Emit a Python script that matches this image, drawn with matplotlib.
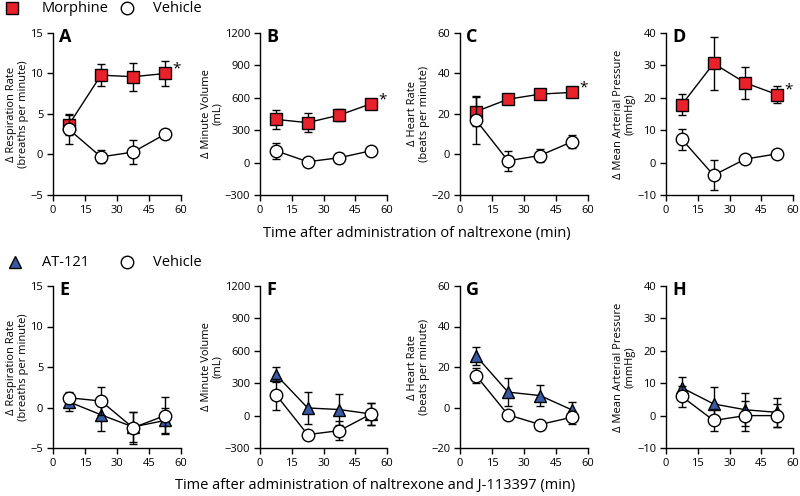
import numpy as np
import matplotlib
matplotlib.use("Agg")
import matplotlib.pyplot as plt
from matplotlib.lines import Line2D

plt.rcParams['font.family'] = ['Open Sans', 'DejaVu Sans']

# time points (min)
t = [7.5, 22.5, 37.5, 52.5]

# top row: morphine vs vehicle
A_mor = [3.7, 9.8, 9.6, 10.0]
A_mor_err = [1.3, 1.4, 1.7, 1.6]
A_veh = [3.1, -0.3, 0.3, 2.5]
A_veh_err = [1.8, 0.8, 1.5, 0.4]

B_mor = [400, 370, 440, 545]
B_mor_err = [85, 90, 55, 20]
B_veh = [110, 8, 45, 110]
B_veh_err = [75, 15, 45, 15]

C_mor = [21.2, 27.3, 29.8, 30.7]
C_mor_err = [7.0, 1.5, 1.5, 1.5]
C_veh = [17.0, -3.1, -0.5, 6.3]
C_veh_err = [12.0, 5.0, 3.0, 3.3]

D_mor = [17.9, 30.6, 24.6, 21.0]
D_mor_err = [3.3, 8.3, 5.0, 2.7]
D_veh = [7.2, -3.9, 1.1, 2.7]
D_veh_err = [3.3, 4.6, 0.8, 0.8]

# bottom row: AT-121 vs vehicle
E_at = [0.7, -0.9, -2.4, -1.6]
E_at_err = [1.1, 2.0, 1.8, 1.6]
E_veh = [1.2, 0.8, -2.5, -1.0]
E_veh_err = [0.7, 1.7, 2.0, 2.3]

F_at = [380, 71, 56, 15]
F_at_err = [70, 145, 140, 100]
F_veh = [195, -176, -139, 15]
F_veh_err = [143, 20, 87, 105]

G_at = [25.5, 7.6, 5.9, -1.2]
G_at_err = [4.3, 7.0, 5.0, 3.8]
G_veh = [15.8, -3.6, -8.4, -4.8]
G_veh_err = [3.6, 1.5, 1.5, 3.3]

H_at = [8.6, 3.6, 1.8, 1.0]
H_at_err = [3.3, 5.2, 5.1, 4.5]
H_veh = [5.9, -1.5, 0.0, 0.0]
H_veh_err = [3.3, 3.4, 4.6, 3.6]

ylabels = ['\u0394 Respiration Rate\n(breaths per minute)',
           '\u0394 Minute Volume\n(mL)',
           '\u0394 Heart Rate\n(beats per minute)',
           '\u0394 Mean Arterial Pressure\n(mmHg)']
yticks = [[-5, 0, 5, 10, 15],
          [-300, 0, 300, 600, 900, 1200],
          [-20, 0, 20, 40, 60],
          [-10, 0, 10, 20, 30, 40]]
xticks = [0, 15, 30, 45, 60]

RED = '#e8212a'
BLUE = '#3a5aa6'

W, H = 800, 496
fig = plt.figure(figsize=(8, 4.96), dpi=100)

lefts = [53, 260, 460, 666]
widths = [128, 127, 128, 127]
tops = [33, 286]
ax_h = 162


def make_ax(col, row):
    l = lefts[col]
    ax = fig.add_axes([l / W, 1 - (tops[row] + ax_h) / H, widths[col] / W, ax_h / H])
    for s in ['top', 'right']:
        ax.spines[s].set_visible(False)
    for s in ['left', 'bottom']:
        ax.spines[s].set_linewidth(1.0)
    ax.set_xlim(0, 60)
    ax.set_xticks(xticks)
    ax.set_yticks(yticks[col])
    ax.set_ylim(yticks[col][0], yticks[col][-1])
    ax.tick_params(labelsize=8, length=4, width=1, pad=3)
    ax.set_ylabel(ylabels[col], fontsize=8, labelpad=1, linespacing=1.1)
    return ax


def series(ax, y, err, marker, face, ms, z):
    ax.errorbar(t, y, yerr=err, fmt='-', color='black', lw=1, capsize=3,
                capthick=1, elinewidth=1, zorder=z, clip_on=False)
    ax.plot(t, y, ls='none', marker=marker, ms=ms, mfc=face, mec='black',
            mew=1, zorder=z + 1, clip_on=False)


top_data = [(A_mor, A_mor_err, A_veh, A_veh_err),
            (B_mor, B_mor_err, B_veh, B_veh_err),
            (C_mor, C_mor_err, C_veh, C_veh_err),
            (D_mor, D_mor_err, D_veh, D_veh_err)]
bot_data = [(E_at, E_at_err, E_veh, E_veh_err),
            (F_at, F_at_err, F_veh, F_veh_err),
            (G_at, G_at_err, G_veh, G_veh_err),
            (H_at, H_at_err, H_veh, H_veh_err)]

for i, (m, me, v, ve) in enumerate(top_data):
    ax = make_ax(i, 0)
    series(ax, m, me, 's', RED, 8, 3)
    series(ax, v, ve, 'o', 'white', 9, 5)
    ax.annotate('*', (t[-1], m[-1]), xytext=(5, 3), textcoords='offset points',
                fontsize=11, va='center', ha='left')
    ax.text(0.05, 1.03, 'ABCD'[i], transform=ax.transAxes, fontsize=13,
            fontweight='bold', va='top', ha='left')

for i, (a, ae, v, ve) in enumerate(bot_data):
    ax = make_ax(i, 1)
    series(ax, a, ae, '^', BLUE, 9, 3)
    series(ax, v, ve, 'o', 'white', 9, 5)
    ax.text(0.05, 1.03, 'EFGH'[i], transform=ax.transAxes, fontsize=13,
            fontweight='bold', va='top', ha='left')

fig.text(417 / W, 1 - 233 / H, 'Time after administration of naltrexone (min)',
         ha='center', va='center', fontsize=10.5)
fig.text(375 / W, 1 - 486 / H,
         'Time after administration of naltrexone and J-113397 (min)',
         ha='center', va='center', fontsize=10.5)

# legends
ov = fig.add_axes([0, 0, 1, 1])
ov.set_xlim(0, W)
ov.set_ylim(H, 0)
ov.axis('off')
ov.add_line(Line2D([12], [8], marker='s', ms=8, mfc=RED, mec='black', mew=1))
ov.text(42, 8, 'Morphine', fontsize=10.5, va='center')
ov.add_line(Line2D([127], [8], marker='o', ms=9, mfc='white', mec='black', mew=1))
ov.text(153, 8, 'Vehicle', fontsize=10.5, va='center')
ov.add_line(Line2D([15], [262], marker='^', ms=9, mfc=BLUE, mec='black', mew=1))
ov.text(42, 262, 'AT-121', fontsize=10.5, va='center')
ov.add_line(Line2D([127], [262], marker='o', ms=9, mfc='white', mec='black', mew=1))
ov.text(153, 262, 'Vehicle', fontsize=10.5, va='center')

fig.savefig('out.png', dpi=100)
